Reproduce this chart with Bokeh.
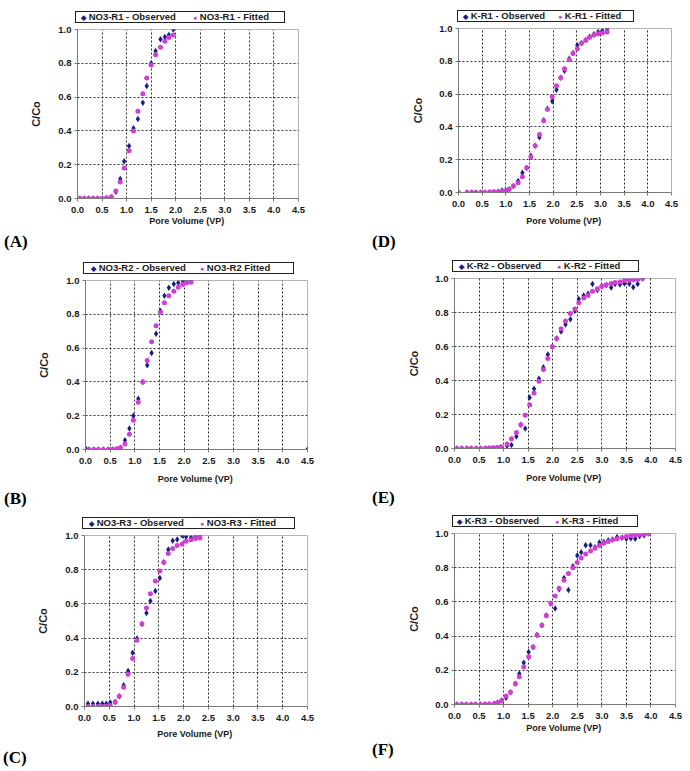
from bokeh.plotting import figure
from bokeh.layouts import column, row
from bokeh.models import Div, SingleIntervalTicker, PrintfTickFormatter, Range1d
from bokeh.embed import file_html
from bokeh.resources import INLINE

# ---------------- data ----------------
# (A) NO3-R1
A_x = [0.05, 0.14, 0.23, 0.32, 0.41, 0.50, 0.59, 0.69, 0.78, 0.87, 0.95, 1.05,
       1.14, 1.23, 1.33, 1.41, 1.50, 1.59, 1.69, 1.78, 1.86, 1.95]
A_obs = [0, 0, 0, 0, 0, 0, 0, 0.004, 0.04, 0.115, 0.22, 0.31, 0.415, 0.47,
         0.567, 0.665, 0.80, 0.873, 0.943, 0.956, 0.968, 1.0]
A_fit = [0, 0, 0, 0, 0, 0, 0.005, 0.01, 0.045, 0.097, 0.18, 0.283, 0.40, 0.516,
         0.62, 0.713, 0.79, 0.85, 0.895, 0.93, 0.953, 0.968]

# (B) NO3-R2
B_x = [0.07, 0.17, 0.26, 0.36, 0.46, 0.55, 0.64, 0.71, 0.80, 0.89, 0.97, 1.07,
       1.16, 1.25, 1.34, 1.43, 1.52, 1.60, 1.69, 1.79, 1.88, 1.97, 2.05, 2.14]
B_fit = [0, 0, 0, 0, 0, 0.002, 0.005, 0.01, 0.033, 0.09, 0.173, 0.28, 0.40,
         0.526, 0.637, 0.732, 0.81, 0.868, 0.91, 0.937, 0.96, 0.976, 0.986, 0.99]
B_obs_x = [0.02, 0.07, 0.17, 0.26, 0.36, 0.46, 0.55, 0.64, 0.71, 0.80, 0.89, 0.97,
           1.07, 1.16, 1.25, 1.34, 1.43, 1.52, 1.60, 1.69, 1.79, 1.88, 1.97,
           2.05, 2.14, 4.5]
B_obs = [0, 0, 0, 0, 0, 0, 0, 0, 0.01, 0.055, 0.124, 0.20, 0.30, 0.40, 0.498,
         0.571, 0.685, 0.82, 0.91, 0.957, 0.98, 0.986, 0.998, 1.0, 1.0, 0]

# (C) NO3-R3
C_x = [0.07, 0.17, 0.27, 0.36, 0.44, 0.52, 0.62, 0.70, 0.79, 0.88, 0.97, 1.06,
       1.16, 1.25, 1.33, 1.43, 1.52, 1.60, 1.69, 1.78, 1.87, 1.97, 2.05, 2.15,
       2.24, 2.33]
C_obs = [0.016, 0.016, 0.016, 0.016, 0.016, 0.023, 0.027, 0.06, 0.125, 0.207,
         0.314, 0.398, 0.482, 0.547, 0.617, 0.676, 0.752, 0.844, 0.918, 0.969,
         0.977, 1.0, 0.992, 0.988, 0.994, 1.0]
C_fit = [0, 0, 0, 0, 0.002, 0.004, 0.027, 0.06, 0.113, 0.188, 0.281, 0.387,
         0.482, 0.576, 0.66, 0.734, 0.793, 0.844, 0.895, 0.924, 0.941, 0.951,
         0.967, 0.975, 0.982, 0.986]

# (D) K-R1
D_x = [0.0, 0.18, 0.28, 0.37, 0.47, 0.56, 0.66, 0.75, 0.84, 0.92, 1.0, 1.07,
       1.16, 1.26, 1.35, 1.44, 1.53, 1.62, 1.71, 1.80, 1.88, 1.98, 2.07, 2.16,
       2.24, 2.34, 2.42, 2.51, 2.60, 2.69, 2.77, 2.86, 2.95, 3.04, 3.14]
D_obs = [0, 0, 0, 0, 0, 0, 0, 0, 0.005, 0.012, 0.012, 0.02, 0.04, 0.07, 0.12,
         0.15, 0.224, 0.285, 0.337, 0.44, 0.51, 0.557, 0.627, 0.70, 0.743,
         0.815, 0.85, 0.898, 0.91, 0.93, 0.95, 0.965, 0.978, 0.986, 0.998]
D_fit = [0, 0, 0, 0, 0, 0, 0.003, 0.004, 0.005, 0.007, 0.01, 0.02, 0.04, 0.06,
         0.096, 0.151, 0.218, 0.285, 0.353, 0.437, 0.508, 0.584, 0.651, 0.70,
         0.755, 0.81, 0.847, 0.877, 0.912, 0.929, 0.947, 0.96, 0.968, 0.972, 0.978]

# (E) K-R2
E_x = [0.05, 0.15, 0.25, 0.34, 0.44, 0.53, 0.63, 0.71, 0.79, 0.87, 0.95, 1.07,
       1.16, 1.26, 1.35, 1.44, 1.53, 1.62, 1.72, 1.81, 1.90, 1.99, 2.08, 2.17,
       2.26, 2.36, 2.45, 2.53, 2.63, 2.72, 2.81, 2.91, 3.00, 3.09, 3.19, 3.27,
       3.37, 3.46, 3.56, 3.64, 3.73, 3.83]
E_obs = [0, 0, 0, 0, 0, 0, 0, 0, 0, 0.003, 0.006, 0.016, 0.02, 0.07, 0.14,
         0.118, 0.30, 0.351, 0.41, 0.478, 0.553, 0.598, 0.647, 0.688, 0.73,
         0.761, 0.81, 0.88, 0.90, 0.91, 0.967, 0.933, 0.955, 0.96, 0.947, 0.967,
         0.965, 0.97, 0.969, 0.949, 0.967, 1.0]
E_fit = [0, 0, 0, 0, 0, 0, 0.002, 0.003, 0.004, 0.006, 0.01, 0.027, 0.057,
         0.094, 0.14, 0.196, 0.257, 0.327, 0.396, 0.465, 0.53, 0.598, 0.647,
         0.704, 0.75, 0.794, 0.82, 0.857, 0.886, 0.90, 0.925, 0.94, 0.955,
         0.963, 0.97, 0.976, 0.98, 0.988, 0.99, 0.992, 0.994, 1.0]

# (F) K-R3
F_x = [0.05, 0.15, 0.24, 0.34, 0.43, 0.53, 0.62, 0.71, 0.81, 0.88, 0.96, 1.05,
       1.14, 1.24, 1.32, 1.41, 1.51, 1.60, 1.68, 1.78, 1.87, 1.96, 2.05, 2.13,
       2.23, 2.32, 2.41, 2.50, 2.58, 2.67, 2.77, 2.86, 2.95, 3.04, 3.13, 3.22,
       3.31, 3.41, 3.50, 3.59, 3.68, 3.77, 3.86, 3.95]
F_obs = [0, 0, 0, 0, 0, 0, 0, 0.002, 0.005, 0.012, 0.023, 0.039, 0.072, 0.121,
         0.18, 0.244, 0.307, 0.336, 0.406, 0.463, 0.521, 0.59, 0.562, 0.674,
         0.74, 0.67, 0.809, 0.871, 0.89, 0.932, 0.932, 0.92, 0.947, 0.951, 0.96,
         0.965, 0.98, 0.975, 0.969, 0.972, 0.969, 0.985, 0.99, 1.0]
F_fit = [0, 0, 0, 0, 0, 0, 0.002, 0.003, 0.005, 0.01, 0.022, 0.049, 0.072,
         0.121, 0.162, 0.219, 0.279, 0.336, 0.406, 0.463, 0.521, 0.59, 0.635,
         0.68, 0.727, 0.766, 0.80, 0.83, 0.857, 0.88, 0.898, 0.914, 0.93, 0.943,
         0.953, 0.963, 0.969, 0.977, 0.982, 0.988, 0.992, 0.994, 0.997, 1.0]

X_TICK_STEP = 0.5
Y_TICK_STEP = 0.2

NAVY = "#1d1d88"
MAGENTA = "#d03ed3"
FONT = "Liberation Sans"
CELL_W = 345
FIG_TOP = 6
BOX_H = 12


def legend_div(g, lab_obs, lab_fit, top_h):
    left, width, g1, g2 = g["legend"]
    span1 = g2 - left - 1 - 3
    html = (
        f'<div style="margin-left:{left}px;margin-top:{top_h - BOX_H}px;'
        f'width:{width}px;height:{BOX_H}px;box-sizing:border-box;'
        f'border:1px solid #222;background:#fff;white-space:nowrap;'
        f'font-family:\'{FONT}\';font-weight:bold;font-size:9.5px;'
        f'line-height:10px;color:#1a1a1a;overflow:hidden;">'
        f'<span style="display:inline-block;box-sizing:border-box;'
        f'width:{span1}px;padding-left:{g1 - left - 4}px;">'
        f'<span style="color:{NAVY};font-size:7px;">&#9670;</span> {lab_obs}</span>'
        f'<span style="display:inline-block;">'
        f'<span style="color:{MAGENTA};font-size:7px;">&#9679;</span> {lab_fit}</span>'
        f'</div>')
    return Div(text=html, width=CELL_W, height=top_h, margin=0)


def letter_div(letter, lx, pad, h):
    html = (f'<div style="margin-left:{lx}px;padding-top:{pad}px;'
            f'font-family:\'Liberation Serif\';font-weight:bold;font-size:17px;'
            f'line-height:17px;color:#000;">{letter}</div>')
    return Div(text=html, width=CELL_W, height=h, margin=0)


def cell(obs_x, obs_y, fit_x, fit_y, lab_obs, lab_fit, letter, g):
    left, fw, ft, fh, fb, row_h = g["frame"]
    right = CELL_W - left - fw
    top_h = ft - FIG_TOP
    p = figure(width=CELL_W, height=FIG_TOP + fh + fb,
               frame_width=fw, frame_height=fh,
               min_border_left=left, min_border_right=right,
               min_border_top=FIG_TOP, min_border_bottom=fb,
               x_range=Range1d(0, 4.5), y_range=Range1d(0, 1.0),
               output_backend="svg", toolbar_location=None,
               background_fill_color="white", border_fill_color="white")
    p.outline_line_color = "#b4b4b4"
    p.outline_line_width = 1

    p.xaxis.ticker = SingleIntervalTicker(interval=X_TICK_STEP, num_minor_ticks=0)
    p.yaxis.ticker = SingleIntervalTicker(interval=Y_TICK_STEP, num_minor_ticks=0)
    for ax in (p.xaxis[0], p.yaxis[0]):
        ax.formatter = PrintfTickFormatter(format="%.1f")
        ax.axis_line_color = "#7a7a7a"
        ax.major_tick_line_color = "#7a7a7a"
        ax.major_tick_out = 3
        ax.major_tick_in = 0
        ax.minor_tick_line_color = None
        ax.major_label_text_font = FONT
        ax.major_label_text_font_style = "bold"
        ax.major_label_text_font_size = "9.5px"
        ax.major_label_text_color = "#1a1a1a"
        ax.axis_label_text_font = FONT
        ax.axis_label_text_font_style = "bold"
        ax.axis_label_text_color = "#1a1a1a"
    p.xaxis.axis_label = "Pore  Volume (VP)"
    p.xaxis.axis_label_text_font_size = "9px"
    p.xaxis.major_label_standoff = 5
    p.xaxis.axis_label_standoff = g["xls"]
    p.yaxis.axis_label = "C/Co"
    p.yaxis.axis_label_text_font_size = "11px"
    p.yaxis.major_label_standoff = 3
    p.yaxis.axis_label_standoff = g["yls"]

    for grid in (p.xgrid[0], p.ygrid[0]):
        grid.grid_line_color = "#333333"
        grid.grid_line_dash = "2 2"
        grid.grid_line_width = 1

    p.scatter(obs_x, obs_y, marker="diamond", size=6.5,
              fill_color=NAVY, line_color=None)
    p.scatter(fit_x, fit_y, marker="circle", size=5,
              fill_color=MAGENTA, line_color=None)

    lx, pad = g["letter"]
    bottom_h = row_h - ft - fh - fb
    return column(legend_div(g, lab_obs, lab_fit, top_h), p,
                  letter_div(letter, lx, pad, bottom_h), spacing=0)


# geometry: frame (left, width, top, height, bottom border, row height),
# legend (box left, box width, glyph1 x, glyph2 x), letter (x, pad)
G = {
    "A": dict(frame=(77, 221, 29, 169, 32, 255), legend=(75, 210, 84, 196),
              xls=0, yls=13, letter=(4, 3)),
    "D": dict(frame=(113, 213, 28, 164, 38, 255), legend=(112, 177, 121, 216),
              xls=6, yls=12, letter=(27, 3)),
    "B": dict(frame=(85, 222, 25, 169, 41, 255), legend=(83, 211, 94, 203),
              xls=7, yls=13, letter=(4, 0)),
    "E": dict(frame=(109, 221, 23, 170, 41, 255), legend=(107, 187, 117, 215),
              xls=7, yls=12, letter=(27, 0)),
    "C": dict(frame=(84, 223, 25, 171, 36, 261), legend=(82, 213, 92, 203),
              xls=5, yls=13, letter=(3, 7)),
    "F": dict(frame=(109, 221, 23, 171, 34, 261), legend=(107, 186, 115, 213),
              xls=1, yls=12, letter=(27, 3)),
}

cA = cell(A_x, A_obs, A_x, A_fit, "NO3-R1 - Observed", "NO3-R1 - Fitted", "(A)", G["A"])
cD = cell(D_x, D_obs, D_x, D_fit, "K-R1 - Observed", "K-R1 - Fitted", "(D)", G["D"])
cB = cell(B_obs_x, B_obs, B_x, B_fit, "NO3-R2 - Observed", "NO3-R2 Fitted", "(B)", G["B"])
cE = cell(E_x, E_obs, E_x, E_fit, "K-R2 - Observed", "K-R2 - Fitted", "(E)", G["E"])
cC = cell(C_x, C_obs, C_x, C_fit, "NO3-R3 - Observed", "NO3-R3 - Fitted", "(C)", G["C"])
cF = cell(F_x, F_obs, F_x, F_fit, "K-R3 - Observed", "K-R3 - Fitted", "(F)", G["F"])

layout = column(row(cA, cD, spacing=0), row(cB, cE, spacing=0),
                row(cC, cF, spacing=0), spacing=0)

open("out.html", "w").write(file_html(layout, INLINE))
